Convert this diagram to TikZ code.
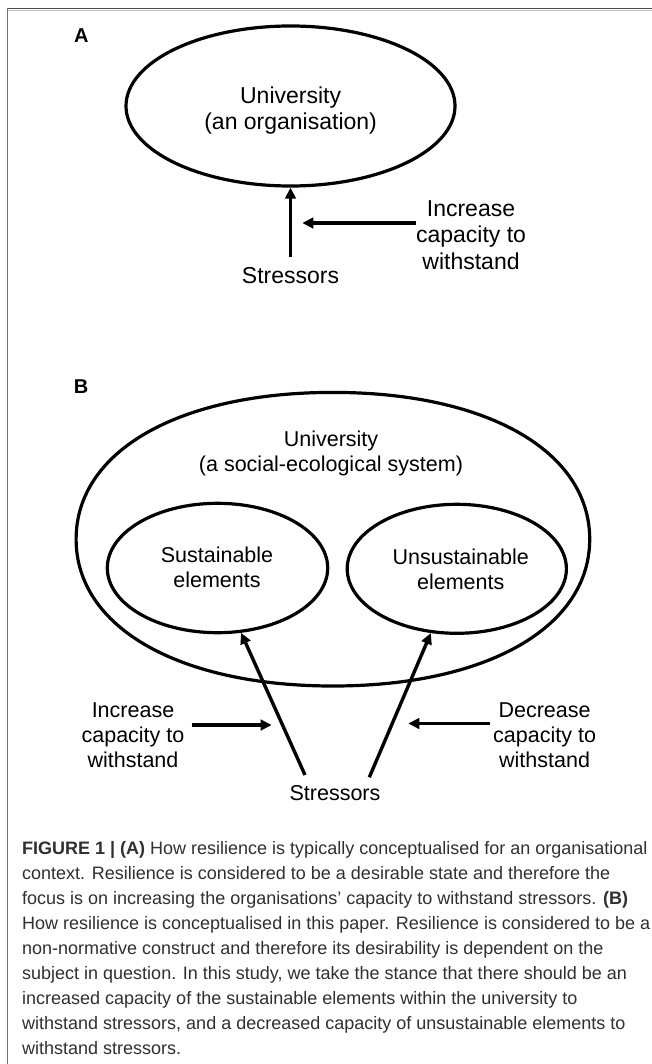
\documentclass[tikz,border=0pt]{standalone}
\usepackage{fontspec}
\setmainfont{Liberation Sans}
\usetikzlibrary{shapes.geometric,arrows.meta,calc}

\definecolor{framedark}{HTML}{505050}
\definecolor{framelight}{HTML}{C8C8C8}
\definecolor{frameside}{HTML}{747474}
\definecolor{captionink}{HTML}{303030}

\begin{document}
\begin{tikzpicture}[x=1pt,y=-1pt,
  outline/.style={draw=black, line width=3.2pt, ellipse, inner sep=0pt},
  arr/.style={draw=black, line width=3.4pt, -{Triangle[length=11pt,width=10.5pt]}},
  txtA/.style={font=\fontsize{23}{26.7}\selectfont, align=center, inner sep=0pt},
  txtB/.style={font=\fontsize{21.5}{25}\selectfont, align=center, inner sep=0pt},
  panel/.style={font=\fontsize{20}{24}\selectfont\bfseries, inner sep=0pt},
  captext/.style={font=\fontsize{18}{25.1}\selectfont, text=captionink, inner sep=0pt, anchor=base west}]

% page and frame
\fill[white] (0,0) rectangle (652,1064);
\useasboundingbox (0,0) rectangle (652,1064);
\draw[framedark, line width=1.6pt] (7.5,8.5) -- (652,8.5);
\draw[framelight, line width=1pt] (8.3,10.1) -- (652,10.1);
\draw[frameside, line width=1.6pt] (7.5,8) -- (7.5,1064);

% panel A
\node[panel] (labA) at (81.3,35.3) {A};
\node[outline, minimum width=329pt, minimum height=160pt] (uniA) at (290.5,106) {};
\node[txtA] (uniAtxt) at (290.6,110.5) {University\\(an organisation)};
\node[txtA] (incA) at (471,235) {Increase\\capacity to\\withstand};
\node[txtA] (strA) at (290.5,276) {Stressors};
\coordinate (tipA) at (302.3,223);
\draw[arr, shorten <=11pt] (strA.north) -- (uniA.south);
\draw[arr] ([yshift=12pt]incA.west) -- (tipA);

% panel B: the university as a slightly full oval
\node[panel] (labB) at (81,386.8) {B};
\draw[black, line width=3.2pt]
  (589.7,539.2) .. controls (589.7,627.3) and (487,686) .. (332.9,686)
                .. controls (178.8,686) and (76.1,627.3) .. (76.1,539.2)
                .. controls (76.1,451.1) and (178.8,392.4) .. (332.9,392.4)
                .. controls (487,392.4) and (589.7,451.1) .. (589.7,539.2) -- cycle;
\node[txtB] (uniBtxt) at (331,453.6) {University\\(a social-ecological system)};
\node[outline, minimum width=220.4pt, minimum height=129.4pt] (sus) at (217.5,568) {};
\node[outline, minimum width=219.2pt, minimum height=129pt] (uns) at (456.8,568.8) {};
\node[txtB] (susTxt) at (217,567.5) {Sustainable\\elements};
\node[txtB] (unsTxt) at (460.7,569.7) {Unsustainable\\elements};
\node[txtB] (incB) at (133,735) {Increase\\capacity to\\withstand};
\node[txtB] (decB) at (544.6,735) {Decrease\\capacity to\\withstand};
\node[txtB] (strB) at (335,793.3) {Stressors};
\coordinate (tipL) at (271.7,725);
\coordinate (tipR) at (408.3,723.5);
\draw[arr] ([xshift=-30pt,yshift=10.5pt]strB.north) -- (sus.-70.75);
\draw[arr] ([xshift=34.3pt,yshift=8.2pt]strB.north) -- (uns.-112.4);
\draw[arr] ([xshift=7pt,yshift=10pt]incB.east) -- (tipL);
\draw[arr] ([xshift=-2.6pt,yshift=11.5pt]decB.west) -- (tipR);

% caption
\foreach \t [count=\i from 0] in {
  {\textbf{FIGURE 1 | (A)} How resilience is typically conceptualised for an organisational},
  {context. Resilience is considered to be a desirable state and therefore the},
  {focus is on increasing the organisations’ capacity to withstand stressors. \textbf{(B)}},
  {How resilience is conceptualised in this paper. Resilience is considered to be a},
  {non-normative construct and therefore its desirability is dependent on the},
  {subject in question. In this study, we take the stance that there should be an},
  {increased capacity of the sustainable elements within the university to},
  {withstand stressors, and a decreased capacity of unsustainable elements to},
  {withstand stressors.}}
  \node[captext] (cap\i) at (22,{854+25.1*\i}) {\t};

\end{tikzpicture}
\end{document}
